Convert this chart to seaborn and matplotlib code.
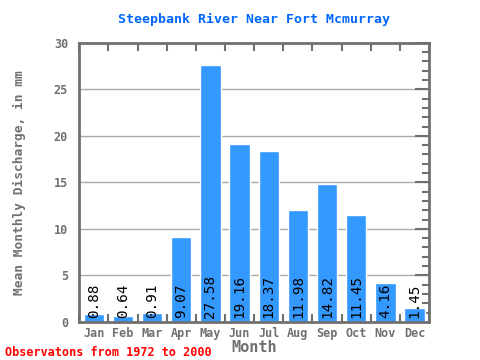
import pandas as pd
import matplotlib
matplotlib.use('Agg')
import matplotlib.pyplot as plt
import seaborn as sns
from matplotlib.ticker import MultipleLocator

sns.set_style('white')
plt.rcParams['font.family'] = ['DejaVu Sans Mono']

months = ['Jan', 'Feb', 'Mar', 'Apr', 'May', 'Jun', 'Jul', 'Aug', 'Sep', 'Oct', 'Nov', 'Dec']
discharge = [0.88, 0.64, 0.91, 9.07, 27.58, 19.16, 18.37, 11.98, 14.82, 11.45, 4.16, 1.45]
labels = ['0.88', '0.64', '0.91', '9.07', '27.58', '19.16', '18.37', '11.98', '14.82', '11.45', '4.16', '1.45']

df = pd.DataFrame({'Month': months, 'Discharge': discharge})

grey = '#707070'
fig = plt.figure(figsize=(4.8, 3.6), dpi=100)
ax = fig.add_axes([0.165, 0.106, 0.729, 0.775])

for v in [5, 10, 15, 20, 25]:
    ax.axhline(v, color='#aaaaaa', lw=1, zorder=0)

sns.barplot(data=df, x='Month', y='Discharge', color='#3399ff', saturation=1,
            width=0.7, ax=ax, zorder=2)

for i, lab in enumerate(labels):
    ax.text(i, 0.4, lab, rotation=90, ha='center', va='bottom',
            fontsize=10.3, color='black', zorder=3)

ax.set_xlim(-0.5, 11.5)
ax.set_ylim(0, 30)
ax.yaxis.set_major_locator(MultipleLocator(5))
ax.yaxis.set_minor_locator(MultipleLocator(1))
ax.set_xticks([i + 0.5 for i in range(-1, 12)], minor=True)
ax.set_xticks(range(12))
ax.set_xticklabels(months)

ax.tick_params(axis='x', which='major', length=0, labelsize=8.5, colors=grey, pad=4)
ax.tick_params(axis='x', which='minor', direction='in', length=6, width=1.5,
               color=grey, top=True, bottom=True)
ax.tick_params(axis='y', which='major', direction='in', length=10, width=1.5,
               color=grey, labelcolor=grey, labelsize=8.5, right=True, pad=8)
ax.tick_params(axis='y', which='minor', direction='in', length=5, width=1.5,
               color=grey, right=True)
for lab in ax.get_xticklabels() + ax.get_yticklabels():
    lab.set_fontweight('bold')

for s in ax.spines.values():
    s.set_color(grey)
    s.set_linewidth(2)

ax.set_xlabel('Month', fontsize=11, fontweight='bold', color=grey, labelpad=0)
ax.set_ylabel('Mean Monthly Discharge, in mm', fontsize=9.3, fontweight='bold',
              color=grey, labelpad=20)
ax.set_title('Steepbank River Near Fort Mcmurray', fontsize=9.5, fontweight='bold',
             color='#0066ff', pad=14)
fig.text(0.01, 0.012, 'Observatons from 1972 to 2000', fontsize=8.5,
         fontweight='bold', color='red')

fig.savefig('out.png', dpi=100)
